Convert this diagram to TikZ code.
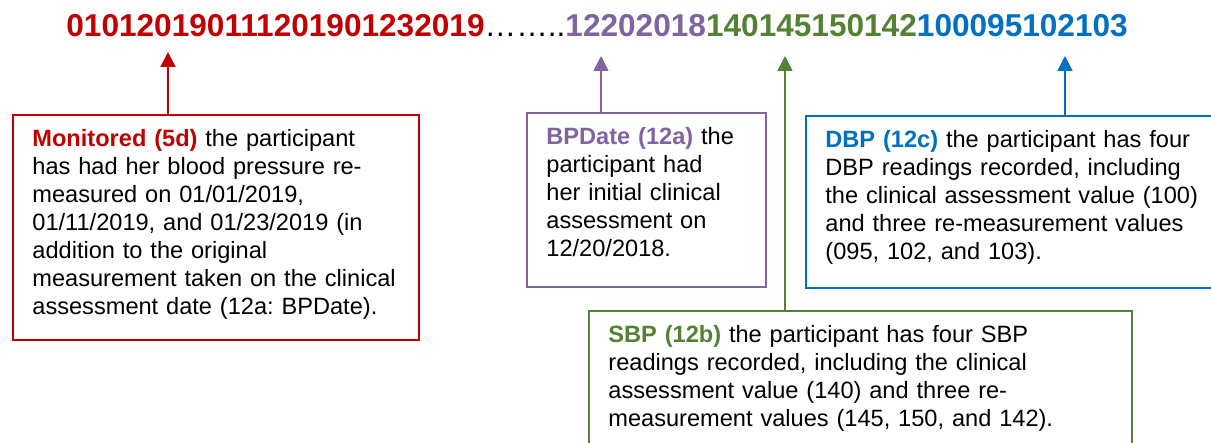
\documentclass[tikz,border=0pt]{standalone}
\usepackage{fontspec}
\setmainfont{Liberation Sans}
\usepackage{tikz}
\usetikzlibrary{arrows.meta}
\frenchspacing
\definecolor{monred}{HTML}{C00000}
\definecolor{datepurple}{HTML}{8064A2}
\definecolor{sbpgreen}{HTML}{548235}
\definecolor{dbpblue}{HTML}{0070C0}
\tikzstyle{panel} = [rectangle, draw, line width=1pt, anchor=north west, inner sep=0pt]
\tikzstyle{txt} = [anchor=base west, inner sep=0pt, align=left, xshift=10pt, yshift=-16.5pt,
    font=\fontsize{11.8}{14}\selectfont]
\tikzstyle{pointer} = [-{Triangle[length=7.5pt,width=7.5pt]}, line width=0.8pt]

\begin{document}
\begin{tikzpicture}[x=0.5pt,y=-0.5pt]
  \useasboundingbox (0,0) rectangle (1211,443);
  \clip (0,0) rectangle (1211,443);

  \node[anchor=base west, inner sep=0pt, font=\fontsize{15.8}{18}\selectfont] (seq) at (66,37)
    {\textbf{\color{monred}010120190111201901232019}……..\textbf{\color{datepurple}12202018}%
     \textbf{\color{sbpgreen}140145150142}\textbf{\color{dbpblue}100095102103}};

  \node[panel, monred, minimum width=203pt, minimum height=112.5pt] (mon) at (12,114) {};
  \node[panel, datepurple, minimum width=119.5pt, minimum height=87pt] (bpd) at (526,112) {};
  \node[panel, dbpblue, minimum width=212pt, minimum height=86pt] (dbp) at (805,115) {};
  \node[panel, sbpgreen, minimum width=271.5pt, minimum height=75pt] (sbp) at (588,310) {};

  \node[txt, text width=200pt] (montext) at (mon.north west)
    {\textbf{\color{monred}Monitored (5d)} the participant\\
     has had her blood pressure re-\\
     measured on 01/01/2019,\\
     01/11/2019, and 01/23/2019 (in\\
     addition to the original\\
     measurement taken on the clinical\\
     assessment date (12a: BPDate).};
  \node[txt, text width=110pt] (bpdtext) at (bpd.north west)
    {\textbf{\color{datepurple}BPDate (12a)} the\\
     participant had\\
     her initial clinical\\
     assessment on\\
     12/20/2018.};
  \node[txt, text width=200pt] (dbptext) at (dbp.north west)
    {\textbf{\color{dbpblue}DBP (12c)} the participant has four\\
     DBP readings recorded, including\\
     the clinical assessment value (100)\\
     and three re-measurement values\\
     (095, 102, and 103).};
  \node[txt, text width=260pt] (sbptext) at (sbp.north west)
    {\textbf{\color{sbpgreen}SBP (12b)} the participant has four SBP\\
     readings recorded, including the clinical\\
     assessment value (140) and three re-\\
     measurement values (145, 150, and 142).};

  \coordinate (montip) at (168,52);
  \coordinate (bpdtip) at (601,56);
  \coordinate (sbptip) at (785,56);
  \coordinate (dbptip) at (1065,56);

  \draw[pointer, monred] (mon.north -| montip) -- (montip);
  \draw[pointer, datepurple] (bpd.north -| bpdtip) -- (bpdtip);
  \draw[pointer, sbpgreen] (sbp.north -| sbptip) -- (sbptip);
  \draw[pointer, dbpblue] (dbp.north -| dbptip) -- (dbptip);
\end{tikzpicture}
\end{document}
